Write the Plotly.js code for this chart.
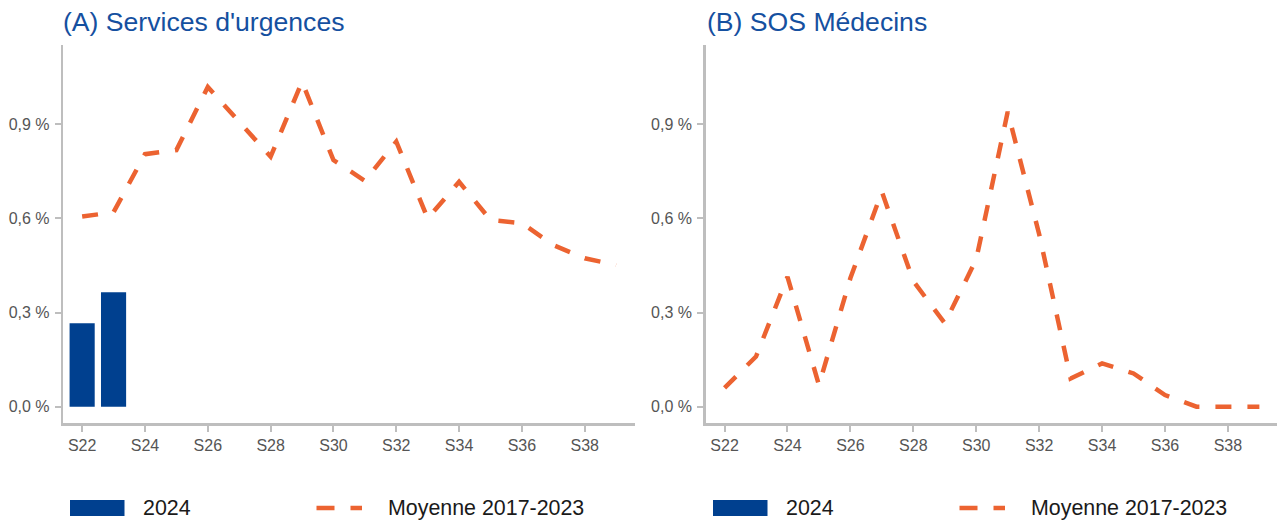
<!DOCTYPE html>
<html>
<head>
<meta charset="utf-8">
<script src="https://cdn.plot.ly/plotly-3.0.1.min.js"></script>
<style>html,body{margin:0;padding:0;background:#fff;}#chart{width:1277px;height:520px;}</style>
</head>
<body>
<div id="chart"></div>
<script>
// ---- Data ----
const weeks = ['S22','S23','S24','S25','S26','S27','S28','S29','S30','S31','S32','S33','S34','S35','S36','S37','S38','S39'];
const tickWeeks = ['S22','S24','S26','S28','S30','S32','S34','S36','S38'];
const weeks2024 = ['S22','S23'];
const urgences2024 = [0.266, 0.365];
const urgencesMoyenne = [0.606, 0.62, 0.805, 0.818, 1.019, 0.907, 0.797, 1.036, 0.786, 0.72, 0.845, 0.60, 0.717, 0.595, 0.585, 0.515, 0.473, 0.452];
const sos2024 = [];
const sosMoyenne = [0.06, 0.16, 0.414, 0.069, 0.41, 0.685, 0.40, 0.266, 0.47, 0.94, 0.55, 0.09, 0.138, 0.106, 0.037, 0.0, 0.0, 0.0];
const panelTitles = ["(A) Services d'urgences", "(B) SOS Médecins"];
const seriesNames = ['2024', 'Moyenne 2017-2023'];

// ---- Style ----
const W = 1277, H = 520;
const BLUE = '#00408F', ORANGE = '#EC6331', TITLE = '#1550A0', GREY = '#BEBEBE', TICKTXT = '#555555';
const FONT = 'Liberation Sans, Arial, sans-serif';
const px = x => x / W;
const py = y => 1 - y / H;

const lineStyle = {color: ORANGE, width: 4.5, dash: '16px,16px'};

const traces = [
  {type: 'bar', x: weeks2024, y: urgences2024, name: seriesNames[0], marker: {color: BLUE, line: {width: 0}}, width: 0.8, xaxis: 'x', yaxis: 'y', showlegend: false},
  {type: 'scatter', mode: 'lines', x: weeks, y: urgencesMoyenne, name: seriesNames[1], line: lineStyle, xaxis: 'x', yaxis: 'y', showlegend: false},
  {type: 'bar', x: weeks.slice(0, sos2024.length), y: sos2024, name: seriesNames[0], marker: {color: BLUE}, width: 0.8, xaxis: 'x2', yaxis: 'y2', showlegend: false},
  {type: 'scatter', mode: 'lines', x: weeks, y: sosMoyenne, name: seriesNames[1], line: lineStyle, xaxis: 'x2', yaxis: 'y2', showlegend: false}
];

function xax(domain, range) {
  return {
    domain: domain, type: 'category', categoryorder: 'array', categoryarray: weeks,
    range: range, tickmode: 'array', tickvals: tickWeeks, ticktext: tickWeeks,
    showgrid: false, zeroline: false, showline: true, linecolor: GREY, linewidth: 2.5,
    ticks: 'outside', ticklen: 6, tickwidth: 2, tickcolor: GREY,
    tickfont: {family: FONT, size: 16, color: TICKTXT}, ticklabelstandoff: 0, fixedrange: true
  };
}
function yax(anchor) {
  return {
    domain: [py(423.3), py(45)], range: [-0.053, 1.153], anchor: anchor,
    tickmode: 'linear', tick0: 0, dtick: 0.3, tickformat: '.1f', ticksuffix: ' %',
    showgrid: false, zeroline: false, showline: true, linecolor: GREY, linewidth: 2.5,
    ticks: 'outside', ticklen: 6, tickwidth: 2, tickcolor: GREY,
    tickfont: {family: FONT, size: 16, color: TICKTXT}, ticklabelstandoff: 2, fixedrange: true
  };
}

const shapes = [];
const annotations = [];
const panelOffsets = [0, 643];
panelOffsets.forEach((o, i) => {
  annotations.push({xref: 'paper', yref: 'paper', x: px(61 + o + (i ? 1 : 0)), y: py(22), xanchor: 'left', yanchor: 'middle',
    text: panelTitles[i], showarrow: false, font: {family: FONT, size: 26.6, color: TITLE}});
  // legend keys
  shapes.push({type: 'rect', xref: 'paper', yref: 'paper', x0: px(70 + o), x1: px(124.5 + o), y0: py(516), y1: py(500), fillcolor: BLUE, line: {width: 0}});
  shapes.push({type: 'line', xref: 'paper', yref: 'paper', x0: px(316.5 + o), x1: px(362 + o), y0: py(508), y1: py(508), line: {color: ORANGE, width: 4.5, dash: '18px,16px'}});
  annotations.push({xref: 'paper', yref: 'paper', x: px(140.5 + o), y: py(508), xanchor: 'left', yanchor: 'middle',
    text: seriesNames[0], showarrow: false, font: {family: FONT, size: 21.4, color: '#1a1a1a'}});
  annotations.push({xref: 'paper', yref: 'paper', x: px(386 + o), y: py(508), xanchor: 'left', yanchor: 'middle',
    text: seriesNames[1], showarrow: false, font: {family: FONT, size: 21.4, color: '#1a1a1a'}});
});

const layout = {
  width: W, height: H, margin: {l: 0, r: 0, t: 0, b: 0}, paper_bgcolor: '#fff', plot_bgcolor: '#fff',
  separators: ', ', showlegend: false, barmode: 'overlay',
  font: {family: FONT},
  xaxis: xax([px(63.3), px(635)], [-0.6, 17.6]),
  yaxis: yax('x'),
  xaxis2: xax([px(705.7), 1], [-0.6, 17.56]),
  yaxis2: yax('x2'),
  shapes: shapes, annotations: annotations
};

Plotly.newPlot('chart', traces, layout, {displayModeBar: false, staticPlot: true});
</script>
</body>
</html>
